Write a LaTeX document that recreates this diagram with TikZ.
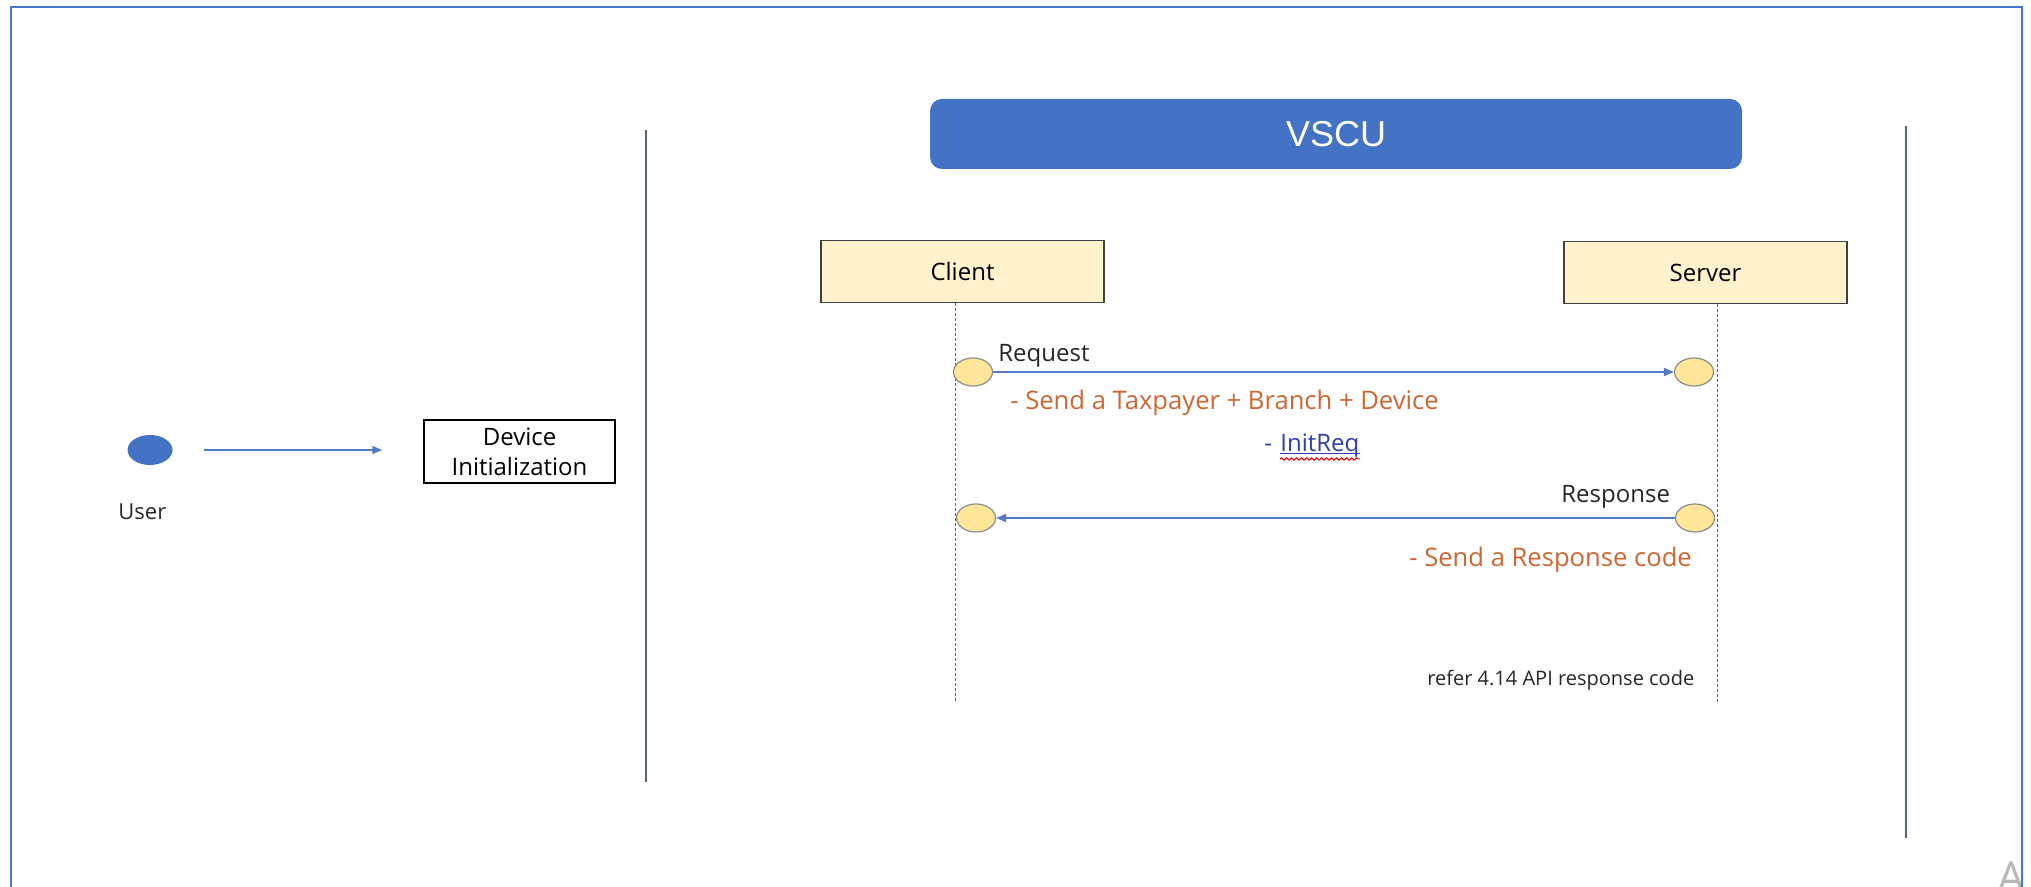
\documentclass[tikz,border=0pt]{standalone}
\usepackage{fontspec}
\setmainfont{Open Sans}
\newfontfamily\barfont{Liberation Sans}
\usetikzlibrary{arrows.meta, shapes.geometric, decorations.pathmorphing, positioning}
\definecolor{frameblue}{RGB}{72,118,206}
\definecolor{barblue}{RGB}{68,114,196}
\definecolor{boxyellow}{RGB}{255,242,204}
\definecolor{dotyellow}{RGB}{255,230,153}
\definecolor{msgblue}{RGB}{82,122,200}
\definecolor{noteorange}{RGB}{204,102,51}
\definecolor{linkblue}{RGB}{48,64,170}
\definecolor{rulegray}{RGB}{88,98,140}
\tikzset{
>={Triangle[length=5pt,width=4pt]},
  actor/.style={
    rectangle,
    fill=boxyellow,
    draw=black!75, line width=0.6pt,
    minimum width=141.5pt,
    minimum height=31pt,
    font=\fontsize{12}{14}\selectfont},
  port/.style={
    ellipse,
    fill=dotyellow,
    draw=black!45, line width=0.6pt,
    minimum width=19.5pt,
    minimum height=14pt,
    inner sep=0pt},
  message/.style={draw=msgblue, line width=0.8pt, ->},
  lifeline/.style={draw=msgblue!80!black, line width=0.4pt, dash pattern=on 1.5pt off 1pt},
  divider/.style={draw=rulegray, line width=0.8pt},
  msgtext/.style={anchor=base west, inner sep=0pt, text=black!85, font=\fontsize{12}{14}\selectfont},
  note/.style={msgtext, text=noteorange, font=\fontsize{12.8}{15}\selectfont},
}

\begin{document}
\begin{tikzpicture}[x=0.5pt, y=-0.5pt]
     \useasboundingbox (0,0) rectangle (2031,887);
     \clip (0,0) rectangle (2031,887);
     \node[anchor=base west, inner sep=0pt, text=black!28, font=\fontsize{22}{24}\selectfont] (Corner) at (1997,893) {A};
     \draw[frameblue, line width=1.2pt] (11,887) -- (11,7) -- (2022,7) -- (2022,887);
     % user side
     \node[ellipse, fill=barblue, minimum width=22.5pt, minimum height=15pt, inner sep=0pt] (User) at (150,450) {};
     \node[msgtext, font=\fontsize{11}{13}\selectfont] (UserName) at (118,520) {User};
     \node[draw, line width=0.7pt, minimum width=95.5pt, minimum height=31.5pt, inner sep=0pt,
           align=center, font=\fontsize{12}{15}\selectfont] (DeviceInit) at (519.5,451.5) {Device\\Initialization};
     \draw[msgblue, line width=0.7pt, ->, shorten <=15.5pt, shorten >=20.5pt] (User) -- (User -| DeviceInit.west);
     \draw[divider] (646,130) -- (646,782);
     \draw[divider] (1906,126) -- (1906,838);
     % VSCU
     \node[fill=barblue, rounded corners=6pt, minimum width=406pt, minimum height=35pt,
           text=white, font=\barfont\fontsize{18}{20}\selectfont] (VSCU) at (1336,134) {VSCU};
     \node[actor] (Client) at (962.5,271.5) {Client};
     \node[actor] (Server) at (1705.5,272.5) {Server};
     \coordinate (ClientEnd) at (955,702);
     \coordinate (ServerEnd) at (1717,704);
     \draw[lifeline] (Client.south -| ClientEnd) -- (ClientEnd);
     \draw[lifeline] (Server.south -| ServerEnd) -- (ServerEnd);
     \node[port] (ReqClient) at (973,372) {};
     \node[port] (ReqServer) at (1694,372) {};
     \node[port] (ResClient) at (976,518) {};
     \node[port] (ResServer) at (1695,518) {};
     \draw[message] (ReqClient) -- (ReqServer);
     \draw[message] (ResServer) -- (ResClient);
     \node[msgtext] (ReqLabel) at (998,362) {Request};
     \node[note] (ReqNote) at (1010,410) {- Send a Taxpayer + Branch + Device};
     \node[msgtext, text=linkblue] (InitDash) at (1264,452) {-};
     \node[msgtext, text=linkblue] (InitReq) at (1280,452) {InitReq};
     \draw[linkblue, line width=0.5pt] ([yshift=-1pt]InitReq.base west) -- ([yshift=-1pt]InitReq.base east);
     \draw[red, line width=0.5pt, decorate, decoration={snake, amplitude=0.6pt, segment length=2.5pt}]
          ([yshift=-3.5pt]InitReq.base west) -- ([yshift=-3.5pt]InitReq.base east);
     \node[msgtext] (ResLabel) at (1561,503) {Response};
     \node[note] (ResNote) at (1409,567) {- Send a Response code};
     \node[msgtext, font=\fontsize{10}{12}\selectfont] (ReferNote) at (1427,685) {refer 4.14 API response code};
\end{tikzpicture}
\end{document}
